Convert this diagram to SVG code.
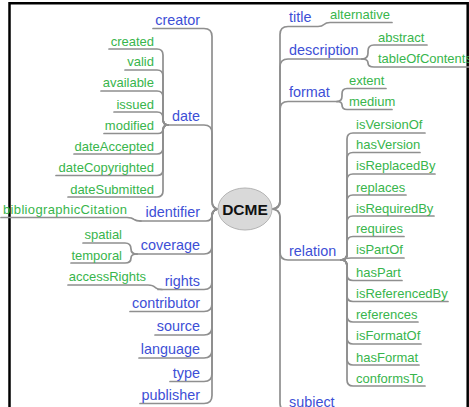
<svg xmlns="http://www.w3.org/2000/svg" width="469" height="407" viewBox="0 0 469 407">
<style>
.b{font-family:"Liberation Sans",Arial,sans-serif;font-size:14.4px;fill:#3d4fd6}
.g{font-family:"Liberation Sans",Arial,sans-serif;font-size:13px;fill:#38b54c}
.e{text-anchor:end}
.c path{fill:none;stroke:#8f8f8f;stroke-width:1.7;stroke-linecap:round}
</style>
<rect width="469" height="407" fill="#fff"/>
<path d="M9.5 410 V3.3 H467.7 V410" fill="none" stroke="#000" stroke-width="2.5"/>
<g class="c" id="connectors">
<path d="M219 209 Q212 209 212 201 V36.5 Q212 28.5 204 28.5 H153"/>
<path d="M219 209 Q212 209 212 201 V133 Q212 125 204 125 H168"/>
<path d="M219 209 Q212 209 212 215 Q212 221 206 221 H140"/>
<path d="M219 209 Q212 209 212 217 V246 Q212 254 204 254 H137"/>
<path d="M219 209 Q212 209 212 217 V281.5 Q212 289.5 204 289.5 H158"/>
<path d="M219 209 Q212 209 212 217 V303.5 Q212 311.5 204 311.5 H130"/>
<path d="M219 209 Q212 209 212 217 V327 Q212 335 204 335 H155"/>
<path d="M219 209 Q212 209 212 217 V350 Q212 358 204 358 H139"/>
<path d="M219 209 Q212 209 212 217 V373.5 Q212 381.5 204 381.5 H170"/>
<path d="M219 209 Q212 209 212 217 V395.5 Q212 403.5 204 403.5 H140"/>
<path d="M168 125 Q163 125 163 119 V55 Q163 49 157 49 H109"/>
<path d="M168 125 Q163 125 163 119 V76 Q163 70 157 70 H125"/>
<path d="M168 125 Q163 125 163 119 V97 Q163 91 157 91 H101"/>
<path d="M168 125 Q163 125 163 119 V118 Q163 112 157 112 H114"/>
<path d="M168 125 Q163 125 163 129 Q163 133.5 158 133.5 H104"/>
<path d="M168 125 Q163 125 163 131 V148 Q163 154 157 154 H74"/>
<path d="M168 125 Q163 125 163 131 V169.5 Q163 175.5 157 175.5 H56"/>
<path d="M168 125 Q163 125 163 131 V191 Q163 197 157 197 H68"/>
<path d="M1 217.5 H127 Q132 217.5 134 219.3 Q136 221 141 221"/>
<path d="M137 254 Q131 254 131 249 Q131 243 125 243 H83"/>
<path d="M137 254 Q131 254 131 258 Q131 263 125 263 H71"/>
<path d="M68 285 H148 Q153 285 155 287.3 Q157 289.5 162 289.5"/>
<path d="M271 209 Q280 209 280 201 V34.5 Q280 26.5 288 26.5 H318 Q322 26.5 324 24.5 Q326 22.5 330 22.5 H392"/>
<path d="M271 209 Q280 209 280 201 V67 Q280 59 288 59 H362"/>
<path d="M362 59 Q368 59 368 53 V51 Q368 45 374 45 H427"/>
<path d="M362 59 Q368 59 368 63 Q368 67 374 67 H470"/>
<path d="M271 209 Q280 209 280 201 V109.5 Q280 101.5 288 101.5 H337"/>
<path d="M337 101.5 Q342 101.5 342 96 V94 Q342 88.5 347 88.5 H386"/>
<path d="M337 101.5 Q342 101.5 342 105 Q342 109.5 347 109.5 H392"/>
<path d="M271 209 Q280 209 280 217 V252 Q280 260 288 260 H341"/>
<path d="M341 260 Q347 260 347 254 V139 Q347 133 353 133 H425"/>
<path d="M341 260 Q347 260 347 254 V158.5 Q347 152.5 353 152.5 H420"/>
<path d="M341 260 Q347 260 347 254 V180 Q347 174 353 174 H435"/>
<path d="M341 260 Q347 260 347 254 V201 Q347 195 353 195 H406"/>
<path d="M341 260 Q347 260 347 254 V222 Q347 216 353 216 H434"/>
<path d="M341 260 Q347 260 347 254 V242.5 Q347 236.5 353 236.5 H404"/>
<path d="M341 260 Q345 258 351 258 H404"/>
<path d="M341 260 Q347 260 347 266 V274.5 Q347 280.5 353 280.5 H402"/>
<path d="M341 260 Q347 260 347 266 V295.5 Q347 301.5 353 301.5 H448"/>
<path d="M341 260 Q347 260 347 266 V316 Q347 322 353 322 H418"/>
<path d="M341 260 Q347 260 347 266 V338 Q347 344 353 344 H421"/>
<path d="M341 260 Q347 260 347 266 V359 Q347 365 353 365 H419"/>
<path d="M341 260 Q347 260 347 266 V380 Q347 386 353 386 H425"/>
<path d="M271 209 Q280 209 280 217 V403 Q280 411 288 411 H340"/>
</g>
<g id="DCME">
<ellipse cx="245" cy="209" rx="27" ry="21" fill="#d9d9d9" stroke="#b3b3b3" stroke-width="1"/>
<text x="245" y="215" text-anchor="middle" font-family="Liberation Sans,Arial,sans-serif" font-weight="bold" font-size="15.5" fill="#111">DCME</text>
</g>
<g id="creator"><text class="b e" x="200" y="24.5">creator</text></g>
<g id="date"><text class="b e" x="200" y="120.5">date</text></g>
<g id="created"><text class="g e" x="154" y="45.5">created</text></g>
<g id="valid"><text class="g e" x="154" y="66">valid</text></g>
<g id="available"><text class="g e" x="154" y="87">available</text></g>
<g id="issued"><text class="g e" x="154" y="108.5">issued</text></g>
<g id="modified"><text class="g e" x="154" y="130">modified</text></g>
<g id="dateAccepted"><text class="g e" x="154" y="150.5">dateAccepted</text></g>
<g id="dateCopyrighted"><text class="g e" x="154" y="172">dateCopyrighted</text></g>
<g id="dateSubmitted"><text class="g e" x="154" y="193.5">dateSubmitted</text></g>
<g id="identifier"><text class="b e" x="200" y="216.5">identifier</text></g>
<g id="bibliographicCitation"><text class="g e" x="127" y="213.5" textLength="124" lengthAdjust="spacing">bibliographicCitation</text></g>
<g id="coverage"><text class="b e" x="200" y="249.5">coverage</text></g>
<g id="spatial"><text class="g e" x="122" y="239">spatial</text></g>
<g id="temporal"><text class="g e" x="122" y="259.5">temporal</text></g>
<g id="rights"><text class="b e" x="200" y="285.5">rights</text></g>
<g id="accessRights"><text class="g e" x="146" y="281">accessRights</text></g>
<g id="contributor"><text class="b e" x="200" y="307.5">contributor</text></g>
<g id="source"><text class="b e" x="200" y="331">source</text></g>
<g id="language"><text class="b e" x="200" y="354">language</text></g>
<g id="type"><text class="b e" x="200" y="377.5">type</text></g>
<g id="publisher"><text class="b e" x="200" y="400">publisher</text></g>
<g id="title"><text class="b" x="289" y="21.5">title</text></g>
<g id="alternative"><text class="g" x="330" y="18.5">alternative</text></g>
<g id="description"><text class="b" x="289" y="54.5">description</text></g>
<g id="abstract"><text class="g" x="378" y="41.5">abstract</text></g>
<g id="tableOfContents"><text class="g" x="378" y="63">tableOfContents</text></g>
<g id="format"><text class="b" x="289" y="97">format</text></g>
<g id="extent"><text class="g" x="349" y="85">extent</text></g>
<g id="medium"><text class="g" x="349" y="106">medium</text></g>
<g id="relation"><text class="b" x="289" y="255.5">relation</text></g>
<g id="isVersionOf"><text class="g" x="356" y="129">isVersionOf</text></g>
<g id="hasVersion"><text class="g" x="356" y="148.5">hasVersion</text></g>
<g id="isReplacedBy"><text class="g" x="356" y="170">isReplacedBy</text></g>
<g id="replaces"><text class="g" x="356" y="191.5">replaces</text></g>
<g id="isRequiredBy"><text class="g" x="356" y="212.5">isRequiredBy</text></g>
<g id="requires"><text class="g" x="356" y="233">requires</text></g>
<g id="isPartOf"><text class="g" x="356" y="254">isPartOf</text></g>
<g id="hasPart"><text class="g" x="356" y="276.5">hasPart</text></g>
<g id="isReferencedBy"><text class="g" x="356" y="297.5">isReferencedBy</text></g>
<g id="references"><text class="g" x="356" y="318.5">references</text></g>
<g id="isFormatOf"><text class="g" x="356" y="340">isFormatOf</text></g>
<g id="hasFormat"><text class="g" x="356" y="361.5">hasFormat</text></g>
<g id="conformsTo"><text class="g" x="356" y="382.5">conformsTo</text></g>
<g id="subject"><text class="b" x="289" y="407">subject</text></g>
</svg>
